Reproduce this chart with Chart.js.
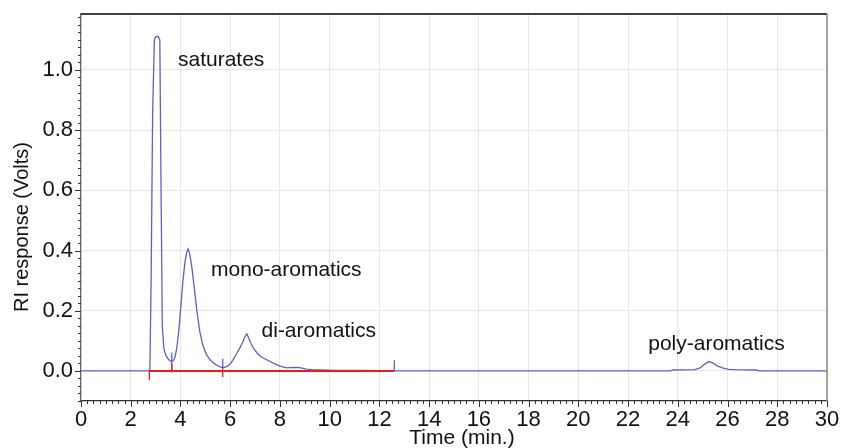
<!DOCTYPE html>
<html>
<head>
<meta charset="utf-8">
<script src="https://cdn.jsdelivr.net/npm/chart.js@4.4.0/dist/chart.umd.min.js"></script>
<style>
  html, body { margin: 0; padding: 0; background: #fff; }
</style>
</head>
<body>
<canvas id="chart" width="843" height="448"></canvas>
<script>
// chromatogram trace (time in min, RI response in volts)
const times = [0, 2.7, 2.77, 2.82, 2.88, 2.95, 3.0, 3.1, 3.17, 3.22, 3.27, 3.33, 3.42, 3.52, 3.62, 3.7,
  3.78, 3.86, 3.94, 4.02, 4.1, 4.18, 4.25, 4.31, 4.37, 4.45, 4.55, 4.66, 4.78, 4.9, 5.04, 5.19, 5.35,
  5.5, 5.65, 5.78, 5.9, 6.02, 6.14, 6.26, 6.38, 6.5, 6.6, 6.67, 6.74, 6.84, 6.96, 7.1, 7.25, 7.47,
  7.73, 8.0, 8.27, 8.55, 8.8, 9.05, 9.3, 9.6, 10.2, 11.3, 12.6, 14, 23.7, 23.8, 24.69, 24.9, 25.1,
  25.25, 25.4, 25.6, 25.83, 26.05, 26.3, 27.15, 27.3, 30];
const signal = [0, 0, 0.005, 0.3, 0.85, 1.10, 1.11, 1.112, 1.10, 0.6, 0.15, 0.075, 0.05, 0.038, 0.032, 0.033,
  0.045, 0.08, 0.14, 0.22, 0.3, 0.36, 0.395, 0.405, 0.39, 0.35, 0.28, 0.2, 0.13, 0.085, 0.055, 0.037, 0.025,
  0.017, 0.012, 0.012, 0.016, 0.025, 0.04, 0.058, 0.075, 0.095, 0.115, 0.123, 0.11, 0.09, 0.072, 0.058, 0.046, 0.037,
  0.026, 0.016, 0.01, 0.012, 0.011, 0.006, 0.004, 0.003, 0.002, 0.002, 0, 0, 0, 0.003, 0.004, 0.01, 0.024,
  0.031, 0.027, 0.016, 0.009, 0.005, 0.004, 0.003, 0, 0];

// integration baseline and peak cut marks
const baseTimes = [2.75, 12.6];
const baseValues = [0, 0];
const blueCutTimes = [3.65, 5.70, 12.6];
const blueCutLow = [0, 0.01, 0];
const blueCutHigh = [0.06, 0.04, 0.035];
const redCutTimes = [2.75, 3.65, 5.70];
const redCutLow = [-0.03, -0.005, -0.02];
const redCutHigh = [0, 0.025, 0.01];

// peak group labels
const labelText = ['saturates', 'mono-aromatics', 'di-aromatics', 'poly-aromatics'];
const labelTime = [3.9, 5.23, 7.26, 22.81];
const labelValue = [1.033, 0.336, 0.133, 0.09];

const xTicks = [0, 2, 4, 6, 8, 10, 12, 14, 16, 18, 20, 22, 24, 26, 28, 30];
const yTicks = [0, 0.2, 0.4, 0.6, 0.8, 1.0];

const BLUE = 'rgb(96,96,192)';
const RED = 'rgb(232,30,30)';
const FONT = "'Liberation Sans', Arial, Helvetica, sans-serif";

const datasets = [];
datasets.push({
  data: baseTimes.map((t, i) => ({x: t, y: baseValues[i]})),
  borderColor: RED, borderWidth: 2
});
redCutTimes.forEach((t, i) => {
  datasets.push({
    data: [{x: t, y: redCutLow[i]}, {x: t, y: redCutHigh[i]}],
    borderColor: RED, borderWidth: 1.3
  });
});
blueCutTimes.forEach((t, i) => {
  datasets.push({
    data: [{x: t, y: blueCutLow[i]}, {x: t, y: blueCutHigh[i]}],
    borderColor: BLUE, borderWidth: 1.3
  });
});
datasets.push({
  data: times.map((t, i) => ({x: t, y: signal[i]})),
  borderColor: BLUE, borderWidth: 1.3
});

const extras = {
  id: 'extras',
  afterDraw(chart) {
    const ctx = chart.ctx;
    const x = chart.scales.x, y = chart.scales.y;
    const a = chart.chartArea;
    ctx.save();
    // minor/major tick marks
    ctx.strokeStyle = '#333';
    ctx.lineWidth = 1;
    ctx.beginPath();
    for (let i = 0; i <= 120; i++) {
      const px = Math.round(x.getPixelForValue(i / 4)) + 0.5;
      const len = i % 8 === 0 ? 6 : 3;
      ctx.moveTo(px, a.bottom);
      ctx.lineTo(px, a.bottom + len);
    }
    for (let i = -4; i <= 47; i++) {
      const py = Math.round(y.getPixelForValue(i * 0.025)) + 0.5;
      const len = i % 8 === 0 ? 6 : 3;
      ctx.moveTo(a.left, py);
      ctx.lineTo(a.left - len, py);
    }
    ctx.stroke();
    // frame: top and right
    ctx.strokeStyle = '#000';
    ctx.lineWidth = 1.5;
    ctx.beginPath();
    ctx.moveTo(a.left, a.top);
    ctx.lineTo(a.right, a.top);
    ctx.stroke();
    ctx.strokeStyle = '#888';
    ctx.lineWidth = 1.5;
    ctx.beginPath();
    ctx.moveTo(a.right, a.top);
    ctx.lineTo(a.right, a.bottom);
    ctx.stroke();
    // peak labels
    ctx.fillStyle = '#111';
    ctx.font = '21px ' + FONT;
    ctx.textAlign = 'left';
    ctx.textBaseline = 'middle';
    labelText.forEach((txt, i) => {
      ctx.fillText(txt, x.getPixelForValue(labelTime[i]), y.getPixelForValue(labelValue[i]));
    });
    // axis titles
    ctx.font = '21px ' + FONT;
    ctx.textAlign = 'center';
    ctx.fillText('Time (min.)', (a.left + a.right) / 2 + 8, 438);
    ctx.translate(22, 227);
    ctx.rotate(-Math.PI / 2);
    ctx.font = '20px ' + FONT;
    ctx.fillText('RI response (Volts)', 0, 0);
    ctx.restore();
  }
};

new Chart(document.getElementById('chart'), {
  type: 'line',
  data: {datasets: datasets},
  options: {
    responsive: false,
    animation: false,
    devicePixelRatio: 1,
    layout: {padding: {top: 14, right: 16, left: 0, bottom: 0}},
    elements: {point: {radius: 0}, line: {tension: 0}},
    plugins: {legend: {display: false}, tooltip: {enabled: false}},
    scales: {
      x: {
        type: 'linear', min: 0, max: 30,
        afterBuildTicks: s => { s.ticks = xTicks.map(v => ({value: v})); },
        afterFit: s => { s.height = 47; s.paddingLeft = 0; s.paddingRight = 0; },
        ticks: {font: {size: 22, family: FONT}, color: '#111', padding: 6, maxRotation: 0, autoSkip: false},
        grid: {color: '#e6e6e6', drawTicks: false},
        border: {color: '#333', width: 1.2}
      },
      y: {
        min: -0.1, max: 1.186,
        afterBuildTicks: s => { s.ticks = yTicks.map(v => ({value: v})); },
        afterFit: s => { s.width = 81; s.paddingTop = 0; s.paddingBottom = 0; },
        ticks: {font: {size: 22, family: FONT}, color: '#111', padding: 8, callback: v => v.toFixed(1)},
        grid: {color: '#e6e6e6', drawTicks: false},
        border: {color: '#666', width: 1.2}
      }
    }
  },
  plugins: [extras]
});
</script>
</body>
</html>
